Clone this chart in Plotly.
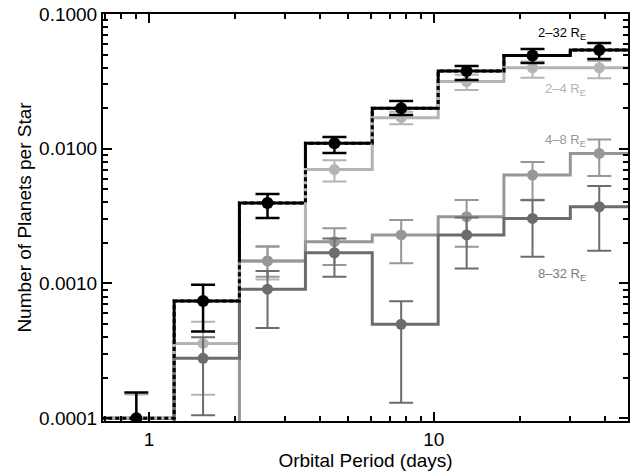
import math
import plotly.graph_objects as go

# Orbital period bins (days)
period_bins = [0.68, 1.2, 2.0, 3.4, 5.9, 10, 17, 29, 50]

# Planet occurrence (planets per star) per period bin, with upper / lower errors
rate_2_32 = [1.0e-4, 7.4e-4, 3.95e-3, 1.10e-2, 2.00e-2, 3.78e-2, 4.92e-2, 5.41e-2]
err_up_2_32 = [0.55e-4, 2.4e-4, 0.66e-3, 1.2e-3, 2.6e-3, 3.3e-3, 5.7e-3, 6.8e-3]
err_lo_2_32 = [0.55e-4, 3.0e-4, 0.89e-3, 1.7e-3, 2.2e-3, 5.4e-3, 6.0e-3, 7.7e-3]

rate_2_4 = [1.0e-4, 3.59e-4, 1.47e-3, 7.0e-3, 1.70e-2, 3.15e-2, 3.99e-2, 3.99e-2]
err_up_2_4 = [0.5e-4, 1.6e-4, 0.43e-3, 1.2e-3, 1.8e-3, 3.9e-3, 4.5e-3, 4.8e-3]
err_lo_2_4 = [0.5e-4, 2.1e-4, 0.40e-3, 1.3e-3, 1.8e-3, 4.2e-3, 6.2e-3, 6.6e-3]

rate_4_8 = [0, 0, 1.47e-3, 2.04e-3, 2.29e-3, 3.13e-3, 6.38e-3, 9.22e-3]
err_up_4_8 = [0, 0, 0.40e-3, 0.53e-3, 0.67e-3, 1.03e-3, 1.6e-3, 2.5e-3]
err_lo_4_8 = [0, 0, 0.35e-3, 0.67e-3, 0.88e-3, 1.26e-3, 2.2e-3, 2.95e-3]

rate_8_32 = [0, 2.78e-4, 9.07e-4, 1.69e-3, 4.97e-4, 2.29e-3, 3.04e-3, 3.71e-3]
err_up_8_32 = [0, 1.2e-4, 0.33e-3, 0.47e-3, 2.4e-4, 0.8e-3, 1.1e-3, 1.57e-3]
err_lo_8_32 = [0, 1.73e-4, 0.44e-3, 0.57e-3, 3.67e-4, 1.0e-3, 1.46e-3, 1.96e-3]

y_ticks = [1e-4, 1e-3, 1e-2, 1e-1]
y_tick_text = ["0.0001", "0.0010", "0.0100", "0.1000"]
x_ticks = [1, 10]
x_tick_text = ["1", "10"]

FONT = "Liberation Sans, Arial, Helvetica, sans-serif"
X_MIN, X_MAX = 0.69, 48.04
Y_MIN_LOG, Y_MAX_LOG = -4.021, -1.0
FLOOR = 1e-7  # empty bins fall below the axis

BLACK = "#000000"
C_2_4 = "#b4b4b4"
C_4_8 = "#979797"
C_8_32 = "#6c6c6c"

centers = [math.sqrt(a * b) for a, b in zip(period_bins[:-1], period_bins[1:])]
# histogram-mode steps: risers halfway between neighbouring points
step_edges = [X_MIN / 2] + [(a + b) / 2 for a, b in zip(centers[:-1], centers[1:])] + [X_MAX * 2]


def step_xy(rates):
    xs, ys = [], []
    for i, r in enumerate(rates):
        v = r if r > 0 else FLOOR
        xs += [step_edges[i], step_edges[i + 1]]
        ys += [v, v]
    return xs, ys


def step_trace(rates, color, width=3, dash=None):
    xs, ys = step_xy(rates)
    line = dict(color=color, width=width)
    if dash:
        line["dash"] = dash
    return go.Scatter(x=xs, y=ys, mode="lines", line=line, hoverinfo="skip", showlegend=False)


def point_trace(rates, up, lo, color, size=11, thick=2):
    keep = [i for i, r in enumerate(rates) if r > 0]
    return go.Scatter(
        x=[centers[i] for i in keep],
        y=[rates[i] for i in keep],
        mode="markers",
        marker=dict(color=color, size=size, symbol="circle", line=dict(width=0)),
        error_y=dict(type="data", symmetric=False,
                     array=[up[i] for i in keep], arrayminus=[lo[i] for i in keep],
                     color=color, thickness=thick, width=12),
        showlegend=False,
    )


fig = go.Figure()
fig.add_trace(step_trace(rate_2_32, BLACK))
for rates, up, lo, col in [
    (rate_2_4, err_up_2_4, err_lo_2_4, C_2_4),
    (rate_4_8, err_up_4_8, err_lo_4_8, C_4_8),
    (rate_8_32, err_up_8_32, err_lo_8_32, C_8_32),
]:
    fig.add_trace(step_trace(rates, col))
    fig.add_trace(point_trace(rates, up, lo, col))
fig.add_trace(step_trace(rate_2_32, BLACK, dash="4px,3px"))
fig.add_trace(point_trace(rate_2_32, err_up_2_32, err_lo_2_32, BLACK, size=12, thick=2.5))

labels = [
    ("2\u201332 R<sub>E</sub>", BLACK, 33),
    ("2\u20134 R<sub>E</sub>", C_2_4, 89),
    ("4\u20138 R<sub>E</sub>", C_4_8, 140),
    ("8\u201332 R<sub>E</sub>", "#7a7a7a", 274),
]
PLOT_TOP, PLOT_BOTTOM, PLOT_LEFT, PLOT_RIGHT = 14, 421, 103, 630
for text, col, ypx in labels:
    fig.add_annotation(
        x=(590 - PLOT_LEFT) / (PLOT_RIGHT - PLOT_LEFT), y=(PLOT_BOTTOM - ypx) / (PLOT_BOTTOM - PLOT_TOP),
        xref="paper", yref="paper", text=text, showarrow=False,
        xanchor="right", yanchor="middle", font=dict(family=FONT, size=13, color=col),
    )

minor_x = [k * 10 ** d for d in range(-1, 2) for k in range(2, 10)]
minor_y = [k * 10 ** d for d in range(-5, -1) for k in range(2, 10)]

axis_common = dict(
    type="log", showline=True, linewidth=2, linecolor="black", mirror="ticks",
    ticks="inside", ticklen=9, tickwidth=2, tickcolor="black",
    showgrid=False, zeroline=False, tickmode="array",
    tickfont=dict(family=FONT, size=19, color="black"),
)

fig.update_layout(
    width=630, height=473,
    margin=dict(l=PLOT_LEFT, r=0, t=PLOT_TOP, b=473 - PLOT_BOTTOM),
    paper_bgcolor="white", plot_bgcolor="white",
    xaxis=dict(
        axis_common, range=[math.log10(X_MIN), math.log10(X_MAX)],
        tickvals=x_ticks, ticktext=x_tick_text,
        minor=dict(tickvals=minor_x, ticks="inside", ticklen=5, tickwidth=1.5, tickcolor="black", showgrid=False),
        title=dict(text="Orbital Period (days)", font=dict(family=FONT, size=19, color="black"), standoff=5),
    ),
    yaxis=dict(
        axis_common, range=[Y_MIN_LOG, Y_MAX_LOG],
        tickvals=y_ticks, ticktext=y_tick_text,
        minor=dict(tickvals=minor_y, ticks="inside", ticklen=5, tickwidth=1.5, tickcolor="black", showgrid=False),
        title=dict(text="Number of Planets per Star", font=dict(family=FONT, size=19, color="black"), standoff=2),
    ),
)

fig.write_html("out.html")
